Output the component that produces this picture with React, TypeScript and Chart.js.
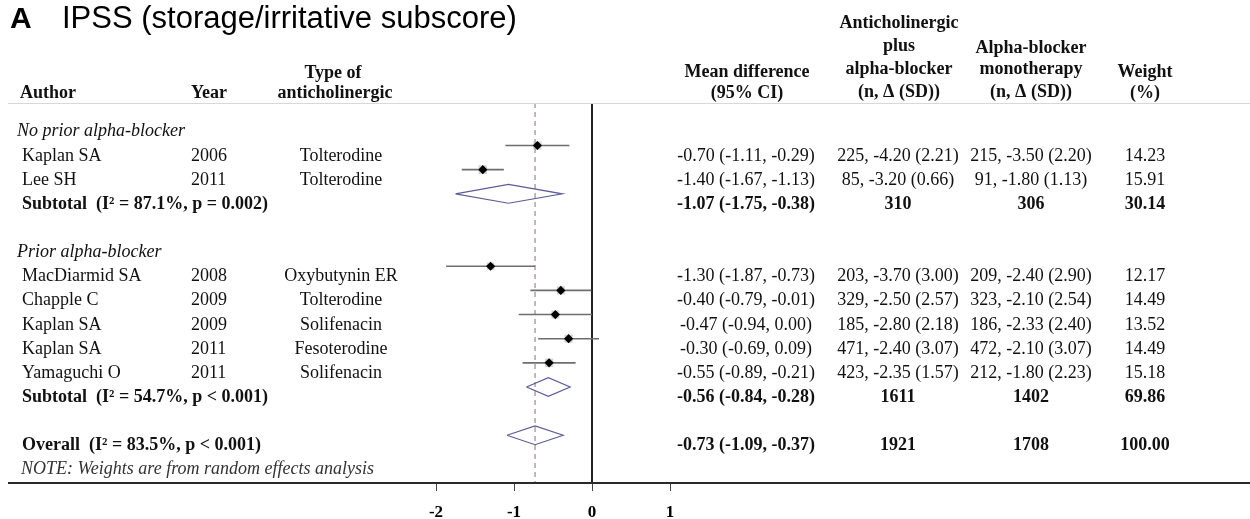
import React, { useEffect, useRef } from "react";
import { Chart, registerables } from "chart.js";
Chart.register(...registerables);

// ---- study-level data ----
const authors = ["Kaplan SA", "Lee SH", "MacDiarmid SA", "Chapple C", "Kaplan SA", "Kaplan SA", "Yamaguchi O"];
const years = ["2006", "2011", "2008", "2009", "2009", "2011", "2011"];
const drugs = ["Tolterodine", "Tolterodine", "Oxybutynin ER", "Tolterodine", "Solifenacin", "Fesoterodine", "Solifenacin"];
const meanDiff = [-0.7, -1.4, -1.3, -0.4, -0.47, -0.3, -0.55];
const ciLow = [-1.11, -1.67, -1.87, -0.79, -0.94, -0.69, -0.89];
const ciHigh = [-0.29, -1.13, -0.73, -0.01, 0.0, 0.09, -0.21];
const armCombo = ["225, -4.20 (2.21)", "85, -3.20 (0.66)", "203, -3.70 (3.00)", "329, -2.50 (2.57)", "185, -2.80 (2.18)", "471, -2.40 (3.07)", "423, -2.35 (1.57)"];
const armMono = ["215, -3.50 (2.20)", "91, -1.80 (1.13)", "209, -2.40 (2.90)", "323, -2.10 (2.54)", "186, -2.33 (2.40)", "472, -2.10 (3.07)", "212, -1.80 (2.23)"];
const weights = [14.23, 15.91, 12.17, 14.49, 13.52, 14.49, 15.18];
const studyRows = [0, 1, 5, 6, 7, 8, 9];

// ---- pooled estimates ----
const pooledLabels = ["Subtotal  (I\u00b2 = 87.1%, p = 0.002)", "Subtotal  (I\u00b2 = 54.7%, p < 0.001)", "Overall  (I\u00b2 = 83.5%, p < 0.001)"];
const pooledMD = [-1.07, -0.56, -0.73];
const pooledLow = [-1.75, -0.84, -1.09];
const pooledHigh = [-0.38, -0.28, -0.37];
const pooledCombo = ["310", "1611", "1921"];
const pooledMono = ["306", "1402", "1708"];
const pooledWeight = ["30.14", "69.86", "100.00"];
const pooledRows = [2, 10, 12];

// ---- group labels / notes ----
const groupLabels = ["No prior alpha-blocker", "Prior alpha-blocker"];
const groupRows = [-1, 4];
const noteText = "NOTE: Weights are from random effects analysis";
const noteRow = 13;

// ---- axis ----
const xTicks = [-2, -1, 0, 1];
const xMin = -2;
const xMax = 1;
const yMin = -1.76;
const yMax = 13.975;
const overallLine = pooledMD[2];

const SERIF = '"Liberation Serif", "Times New Roman", serif';
const SANS = '"Liberation Sans", Arial, sans-serif';

export default function App() {
  const ref = useRef<HTMLCanvasElement>(null);

  useEffect(() => {
    const canvas = ref.current;
    if (!canvas) return;
    const fmt = (v: number) => v.toFixed(2);
    const dh = 0.39;

    const datasets: any[] = [];
    // CI lines
    studyRows.forEach((r, i) => {
      datasets.push({
        data: [{ x: ciLow[i], y: r }, { x: ciHigh[i], y: r }],
        showLine: true,
        borderColor: "#6e6e6e",
        borderWidth: 1.6,
        pointRadius: 0,
        order: 3,
      });
    });
    // weight boxes
    datasets.push({
      data: studyRows.map((r, i) => ({ x: meanDiff[i], y: r })),
      pointStyle: "rect",
      pointRadius: weights.map((w) => 1.5 * Math.sqrt(w)),
      backgroundColor: "rgba(165,165,165,0.5)",
      borderWidth: 0,
      order: 2,
    });
    // point estimates
    datasets.push({
      data: studyRows.map((r, i) => ({ x: meanDiff[i], y: r })),
      pointStyle: "rectRot",
      pointRadius: 4.6,
      backgroundColor: "#000",
      borderWidth: 0,
      order: 0,
    });
    // pooled diamonds
    pooledRows.forEach((r, i) => {
      datasets.push({
        data: [
          { x: pooledLow[i], y: r },
          { x: pooledMD[i], y: r - dh },
          { x: pooledHigh[i], y: r },
          { x: pooledMD[i], y: r + dh },
          { x: pooledLow[i], y: r },
        ],
        showLine: true,
        borderColor: "#5c5c98",
        borderWidth: 1.2,
        pointRadius: 0,
        tension: 0,
        order: 1,
      });
    });
    // overall dashed line
    datasets.push({
      data: [{ x: overallLine, y: yMin }, { x: overallLine, y: yMax }],
      showLine: true,
      borderColor: "#a5868e",
      borderWidth: 1.2,
      borderDash: [5, 4],
      pointRadius: 0,
      order: 4,
    });
    // null line
    datasets.push({
      data: [{ x: 0, y: yMin }, { x: 0, y: yMax }],
      showLine: true,
      borderColor: "#222",
      borderWidth: 2,
      pointRadius: 0,
      order: 4,
    });

    const textPlugin = {
      id: "forestText",
      afterDraw(chart: any) {
        const ctx = chart.ctx as CanvasRenderingContext2D;
        const ys = chart.scales.y;
        const area = chart.chartArea;
        ctx.save();
        // header rule
        ctx.strokeStyle = "#d8d8d8";
        ctx.lineWidth = 1;
        ctx.beginPath();
        ctx.moveTo(8, 103.5);
        ctx.lineTo(1250, 103.5);
        ctx.stroke();
        // axis rule
        ctx.strokeStyle = "#2a2a2a";
        ctx.lineWidth = 2;
        ctx.beginPath();
        ctx.moveTo(8, area.bottom);
        ctx.lineTo(1250, area.bottom);
        ctx.stroke();

        const t = (s: string, x: number, y: number, align: CanvasTextAlign, font: string, color = "#111") => {
          ctx.font = font;
          ctx.textAlign = align;
          ctx.textBaseline = "alphabetic";
          ctx.fillStyle = color;
          ctx.fillText(s, x, y);
        };
        const reg = `18px ${SERIF}`;
        const bold = `bold 18px ${SERIF}`;
        const ital = `italic 18px ${SERIF}`;

        // title
        t("A", 10, 28, "left", `bold 30px ${SANS}`, "#000");
        t("IPSS (storage/irritative subscore)", 62, 28, "left", `31px ${SANS}`, "#000");

        // headers
        t("Author", 20, 98, "left", bold);
        t("Year", 191, 98, "left", bold);
        t("Type of", 333, 78, "center", bold);
        t("anticholinergic", 335, 98, "center", bold);
        t("Mean difference", 747, 77, "center", bold);
        t("(95% CI)", 747, 98, "center", bold);
        t("Anticholinergic", 899, 28, "center", bold);
        t("plus", 899, 51, "center", bold);
        t("alpha-blocker", 899, 74, "center", bold);
        t("(n, \u0394 (SD))", 899, 97, "center", bold);
        t("Alpha-blocker", 1031, 53, "center", bold);
        t("monotherapy", 1031, 74, "center", bold);
        t("(n, \u0394 (SD))", 1031, 97, "center", bold);
        t("Weight", 1145, 77, "center", bold);
        t("(%)", 1145, 98, "center", bold);

        const base = (row: number) => ys.getPixelForValue(row) + 15;

        groupLabels.forEach((g, i) => t(g, 17, base(groupRows[i]), "left", ital));

        studyRows.forEach((r, i) => {
          const y = base(r);
          t(authors[i], 22, y, "left", reg);
          t(years[i], 191, y, "left", reg);
          t(drugs[i], 341, y, "center", reg);
          t(`${fmt(meanDiff[i])} (${fmt(ciLow[i])}, ${fmt(ciHigh[i])})`, 746, y, "center", reg);
          t(armCombo[i], 898, y, "center", reg);
          t(armMono[i], 1031, y, "center", reg);
          t(fmt(weights[i]), 1145, y, "center", reg);
        });

        pooledRows.forEach((r, i) => {
          const y = base(r);
          t(pooledLabels[i], 22, y, "left", bold);
          t(`${fmt(pooledMD[i])} (${fmt(pooledLow[i])}, ${fmt(pooledHigh[i])})`, 746, y, "center", bold);
          t(pooledCombo[i], 898, y, "center", bold);
          t(pooledMono[i], 1031, y, "center", bold);
          t(pooledWeight[i], 1145, y, "center", bold);
        });

        t(noteText, 21, base(noteRow), "left", ital, "#333");
        ctx.restore();
      },
    };

    const chart = new Chart(canvas, {
      type: "scatter",
      data: { datasets },
      options: {
        responsive: false,
        devicePixelRatio: 1,
        animation: false,
        layout: { padding: { left: 436, right: 580, top: 103, bottom: 0 } },
        plugins: { legend: { display: false }, tooltip: { enabled: false } },
        scales: {
          x: {
            type: "linear",
            min: xMin,
            max: xMax,
            afterBuildTicks: (s: any) => {
              s.ticks = xTicks.map((v) => ({ value: v }));
            },
            afterFit: (s: any) => {
              s.height = 36;
            },
            ticks: {
              color: "#000",
              font: { family: SERIF, size: 17, weight: "bold" },
              padding: 11,
              callback: (v: any) => String(v),
            },
            grid: { drawOnChartArea: false, drawTicks: true, tickLength: 8, color: "#444", lineWidth: 1 },
            border: { display: false },
          },
          y: { type: "linear", display: false, min: yMin, max: yMax, reverse: true },
        },
      },
      plugins: [textPlugin],
    });
    return () => chart.destroy();
  }, []);

  return (
    <div style={{ position: "absolute", left: 0, top: 0, width: 1250, height: 519, background: "#fff" }}>
      <canvas ref={ref} width={1250} height={519} style={{ display: "block" }} />
    </div>
  );
}
